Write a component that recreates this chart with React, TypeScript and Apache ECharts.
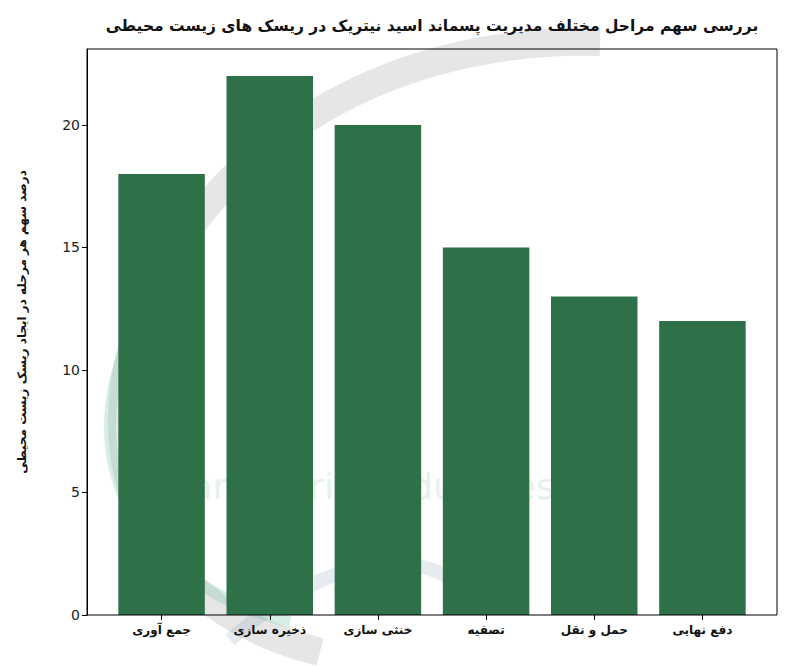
import React, { useEffect, useRef } from "react";
import * as echarts from "echarts";

const categories = ["جمع آوری", "ذخیره سازی", "خنثی سازی", "تصفیه", "حمل و نقل", "دفع نهایی"];
const shares = [18, 22, 20, 15, 13, 12];
const titleText = "بررسی سهم مراحل مختلف مدیریت پسماند اسید نیتریک در ریسک های زیست محیطی";
const yLabelText = "درصد سهم هر مرحله در ایجاد ریسک زیست محیطی";

export default function App() {
  const ref = useRef<HTMLDivElement>(null);
  useEffect(() => {
    if (!ref.current) return;
    const chart = echarts.init(ref.current, null, { renderer: "svg" });
    const font = "DejaVu Sans";
    chart.setOption({
      animation: false,
      backgroundColor: "#ffffff",
      grid: { left: 107.5, right: 43.5, top: 49, bottom: 51, containLabel: false },
      xAxis: {
        type: "category",
        data: categories,
        boundaryGap: true,
        axisLine: { show: false },
        axisTick: { show: true, alignWithLabel: true, length: 5, lineStyle: { color: "#000" } },
        axisLabel: { fontFamily: font, fontSize: 12, fontWeight: "bold", color: "#111", margin: 9, interval: 0 },
      },
      yAxis: {
        type: "value",
        min: 0,
        max: 23.1,
        interval: 5,
        offset: 20.5,
        axisLine: { show: true, lineStyle: { color: "#000", width: 1 } },
        axisTick: { show: true, length: 5, lineStyle: { color: "#000" } },
        axisLabel: { fontFamily: font, fontSize: 14, color: "#222", margin: 7, showMaxLabel: false },
        splitLine: { show: false },
      },
      series: [
        {
          type: "bar",
          data: shares,
          barWidth: 86.5,
          itemStyle: { color: "#2e7048" },
          z: 2,
        },
      ],
      graphic: [
        {
          type: "bezierCurve",
          z: 0,
          silent: true,
          shape: { x1: 600, y1: 42, cpx1: 130, cpy1: 30, cpx2: -50, cpy2: 560, x2: 320, y2: 652 },
          style: { stroke: "rgba(205,205,205,0.5)", lineWidth: 28, fill: "none" },
        },
        {
          type: "bezierCurve",
          z: 0,
          silent: true,
          shape: { x1: 165, y1: 280, cpx1: 70, cpy1: 400, cpx2: 90, cpy2: 570, x2: 290, y2: 622 },
          style: { stroke: "rgba(120,200,165,0.3)", lineWidth: 12, fill: "none" },
        },
        {
          type: "bezierCurve",
          z: 0,
          silent: true,
          shape: { x1: 230, y1: 640, cpx1: 310, cpy1: 570, cpx2: 400, cpy2: 540, x2: 460, y2: 585 },
          style: { stroke: "rgba(140,165,195,0.22)", lineWidth: 14, fill: "none" },
        },
        {
          type: "text",
          z: 0,
          silent: true,
          x: 165,
          y: 468,
          style: {
            text: "Iran  Nitric  Industries  Co",
            fontFamily: "DejaVu Sans",
            fontSize: 36,
            fill: "rgba(190,220,205,0.4)",
          },
        },
        {
          type: "rect",
          z: 10,
          silent: true,
          shape: { x: 87, y: 49, width: 690, height: 566 },
          style: { stroke: "#000", lineWidth: 1, fill: "none" },
        },
        {
          type: "text",
          z: 10,
          x: 432,
          y: 26,
          style: {
            text: titleText,
            fontFamily: font,
            fontSize: 15.5,
            fontWeight: "bold",
            fill: "#111",
            align: "center",
            verticalAlign: "middle",
          },
        },
        {
          type: "text",
          z: 10,
          x: 22,
          y: 322,
          rotation: Math.PI / 2,
          style: {
            text: yLabelText,
            fontFamily: font,
            fontSize: 12,
            fontWeight: "bold",
            fill: "#111",
            align: "center",
            verticalAlign: "middle",
          },
        },
      ],
    });
    return () => chart.dispose();
  }, []);
  return (
    <div
      ref={ref}
      style={{ position: "fixed", left: 0, top: 0, width: 800, height: 666 }}
    />
  );
}
